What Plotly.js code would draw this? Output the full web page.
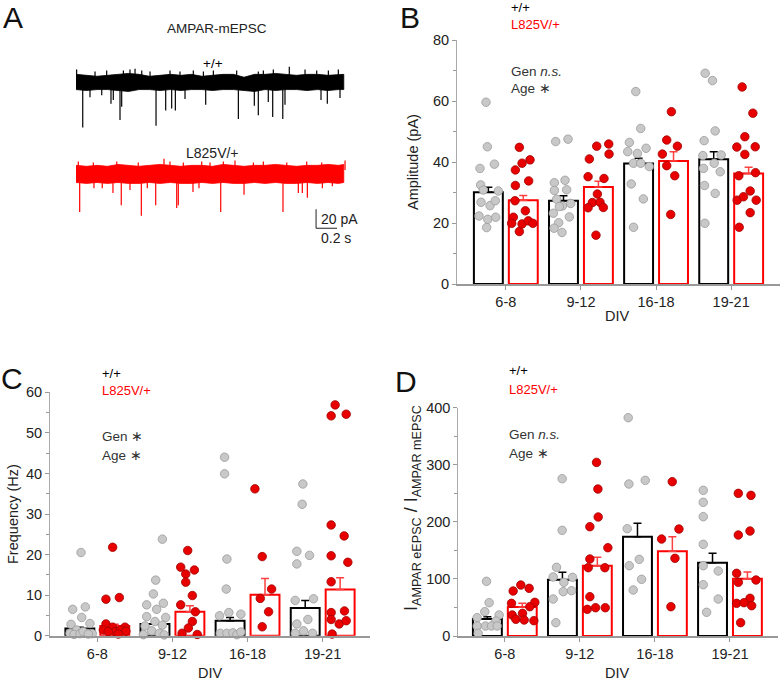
<!DOCTYPE html>
<html><head><meta charset="utf-8">
<script src="https://cdn.plot.ly/plotly-3.0.1.min.js"></script>
<style>html,body{margin:0;padding:0;background:#fff}#chart{width:780px;height:680px}</style>
</head><body><div id="chart"></div>
<script>
// ---------------- DATA ----------------
const divCats = ['6-8', '9-12', '16-18', '19-21'];
const genoWT = '+/+';
const genoMut = 'L825V/+';

// Panel B: amplitude (pA)
const ampWtMean = [30.1, 27.3, 39.5, 40.9];
const ampWtSem  = [1.6, 1.6, 1.7, 2.5];
const ampMutMean = [27.5, 31.8, 40.3, 36.2];
const ampMutSem  = [1.5, 1.9, 3.1, 2.1];
const ampWtPts = [
  [59.6,45.0,37.9,39.3,32.5,30.8,30.5,26.8,25.7,27.3,22.3,21.2,21.9,18.5],
  [46.7,47.5,33.2,34.0,30.7,30.9,27.8,25.6,26.4,25.4,23.2,22.0,20.1,18.3,16.9],
  [63.1,51.0,46.4,43.4,42.8,44.5,39.6,39.6,38.5,32.8,27.9,18.6],
  [69.1,66.7,50.2,47.0,42.1,42.3,39.6,37.9,36.8,32.3,29.7,19.9]
];
const ampWtJit = [
  [-0.264,-0.246,-0.344,-0.152,-0.335,-0.30,-0.10,-0.33,-0.21,-0.14,-0.357,-0.24,-0.135,-0.255],
  [-0.336,-0.172,-0.354,-0.212,-0.354,-0.19,-0.323,-0.247,-0.136,-0.287,-0.367,-0.154,-0.296,-0.358,-0.252],
  [-0.27,-0.204,-0.355,-0.377,-0.249,-0.133,-0.30,-0.204,-0.09,-0.33,-0.169,-0.30],
  [-0.346,-0.249,-0.213,-0.36,-0.377,-0.133,-0.226,-0.368,-0.146,-0.355,-0.213,-0.35]
];
const ampMutPts = [
  [44.8,37.4,39.6,40.7,32.3,33.8,27.3,24.0,21.9,19.9,17.2,19.7,20.7,19.9],
  [45.2,45.9,41.0,42.6,35.2,34.6,29.5,26.7,26.8,25.0,25.1,16.0],
  [56.5,47.2,45.2,42.6,38.8,35.5,22.8],
  [64.6,56.0,48.3,44.9,45.0,42.5,35.5,36.5,30.5,27.5,28.6,27.5,23.4,18.6]
];
const ampMutJit = [
  [0.18,0.127,0.216,0.322,0.127,0.304,0.122,0.26,0.10,0.078,0.18,0.216,0.30,0.36],
  [0.21,0.37,0.112,0.374,0.095,0.307,0.219,0.152,0.254,0.095,0.298,0.2],
  [0.204,0.142,0.284,0.084,0.142,0.249,0.195],
  [0.146,0.289,0.182,0.075,0.32,0.182,0.102,0.324,0.253,0.08,0.164,0.333,0.253,0.107]
];

// Panel C: frequency (Hz)
const freqWtMean = [1.8, 2.9, 3.7, 6.8];
const freqWtSem  = [0.3, 0.6, 0.8, 1.9];
const freqMutMean = [2.4, 5.9, 10.1, 11.4];
const freqMutSem  = [0.4, 1.5, 4.0, 2.9];
const freqWtPts = [
  [20.5,6.5,7.1,4.5,2.8,3.0,1.4,0.6,0.3,0.5,0.6,0.5,1.0,0.4],
  [23.8,13.7,10.3,7.6,8.0,6.5,4.7,4.5,3.5,2.6,2.4,1.2,0.6,0.25,0.2],
  [44.0,39.9,18.9,11.5,4.9,5.7,5.3,0.6,0.6,0.7,0.25,0.9],
  [37.4,32.4,20.8,19.8,17.7,8.7,9.1,4.0,2.9,1.2,0.6,0.6]
];
const freqWtJit = [
  [-0.217,-0.328,-0.16,-0.208,-0.35,-0.098,-0.275,-0.364,-0.31,-0.23,-0.15,-0.067,-0.19,-0.12],
  [-0.134,-0.223,-0.254,-0.343,-0.121,-0.21,-0.343,-0.09,-0.232,-0.134,-0.365,-0.276,-0.174,-0.387,-0.11],
  [-0.306,-0.306,-0.275,-0.284,-0.373,-0.249,-0.089,-0.364,-0.275,-0.195,-0.142,-0.089],
  [-0.264,-0.273,-0.344,-0.175,-0.344,-0.366,-0.122,-0.197,-0.344,-0.255,-0.366,-0.135]
];
const freqMutPts = [
  [21.8,9.0,9.4,2.9,2.1,2.1,1.4,1.0,1.0,1.4,1.1,0.4],
  [21.0,16.9,15.2,16.2,13.2,9.9,7.6,5.9,3.5,1.9,0.6,0.3],
  [36.2,19.5,11.5,9.2,5.9,2.2],
  [56.9,54.2,54.6,27.3,24.6,19.7,18.1,13.3,5.7,6.1,4.0,2.9,3.7,0.4]
];
const freqMutJit = [
  [0.204,0.115,0.293,0.115,0.204,0.368,0.08,0.235,0.146,0.31,0.38,0.28],
  [0.203,0.11,0.177,0.292,0.177,0.265,0.11,0.305,0.265,0.212,0.128,0.33],
  [0.098,0.195,0.32,0.169,0.28,0.195],
  [0.166,0.113,0.313,0.113,0.286,0.113,0.335,0.113,0.113,0.29,0.113,0.22,0.313,0.126]
];

// Panel D: eEPSC / mEPSC ratio
const ratioWtMean = [29.8, 98.7, 174.0, 128.5];
const ratioWtSem  = [4.1, 12.8, 23.4, 16.3];
const ratioMutMean = [50.8, 123.2, 148.3, 100.4];
const ratioMutSem  = [6.4, 14.6, 25.7, 11.7];
const ratioWtPts = [
  [95.8,58.4,42.6,32.1,36.8,26.3,17.5,17.5,17.5,17.5,4.7],
  [275.6,185.1,120.3,103.4,102.8,94.0,64.8,77.7,79.4,23.4],
  [382.5,266.3,272.7,188.0,123.2,134.3,99.3,80.6],
  [255.2,234.2,209.1,160.6,123.2,113.9,89.9,64.8,41.5]
];
const ratioWtJit = [
  [-0.244,-0.209,-0.267,-0.369,-0.076,-0.12,-0.369,-0.258,-0.178,-0.102,-0.356],
  [-0.236,-0.236,-0.311,-0.356,-0.098,-0.213,-0.356,-0.222,-0.111,-0.32],
  [-0.356,-0.347,-0.129,-0.369,-0.342,-0.209,-0.178,-0.289],
  [-0.356,-0.356,-0.356,-0.356,-0.356,-0.156,-0.356,-0.156,-0.311]
];
const ratioMutPts = [
  [89.3,78.8,83.5,57.2,59.0,36.8,39.7,51.4,29.2,28.0,26.9],
  [304.2,257.5,191.5,208.5,154.7,134.9,119.7,119.7,68.9,46.7,49.6,49.6],
  [270.4,187.4,169.9,136.1,51.4],
  [249.9,246.4,176.9,183.9,109.8,94.0,98.1,66.0,57.2,58.4,53.1,23.4]
];
const ratioMutJit = [
  [0.213,0.111,0.324,0.089,0.4,0.098,0.236,0.333,0.147,0.258,0.387],
  [0.222,0.24,0.133,0.244,0.373,0.133,0.333,0.111,0.133,0.098,0.209,0.338],
  [0.231,0.32,0.089,0.267,0.213],
  [0.111,0.28,0.111,0.267,0.089,0.111,0.347,0.267,0.089,0.187,0.289,0.142]
];

// Panel A: example mEPSC traces (time s, current pA relative to baseline)
const traceEnvT = [0,0.1,0.2,0.3,0.4,0.5,0.6,0.7,0.8,0.9,1.0,1.1,1.2,1.3,1.4,1.5,1.6,1.7,1.8,1.9,2.0,2.1,2.2,2.3,2.4,2.5,2.55];
const wtEnvUp = [8,7,6,7,8,9,8,6,7,8,7,8,6,7,8,8,5,8,8,9,8,7,8,8,7,8,8];
const wtEnvLo = [-8,-9,-8,-8,-9,-10,-8,-8,-9,-8,-9,-8,-8,-9,-8,-8,-9,-10,-8,-9,-8,-8,-9,-8,-9,-8,-8];
const wtSpikeT = [0.064,0.133,0.245,0.333,0.355,0.419,0.435,0.762,0.854,0.911,0.946,1.038,1.235,1.546,1.698,1.736,1.831,1.873,1.969,1.99,2.333,2.393,2.514];
const wtSpikeAmp = [-48,-16,-14,-23,-19,-40,-26,-46,-30,-28,-30,-18,-24,-39,-25,-35,-21,-37,-39,-24,-19,-23,-17];
const wtUpT = [0.006,0.181,0.292,0.451,0.514,0.562,0.626,0.705,0.895,0.99,1.117,1.213,1.308,1.53,1.736,1.784,1.879,2.031,2.181,2.292,2.403,2.498];
const wtUpAmp = [13,11,12,12,13,14,12,11,12,11,12,11,12,12,11,12,13,16,13,12,12,13];
const mutEnvUp = [9,8,9,8,10,9,8,9,10,9,8,9,9,8,10,9,8,9,9,10,9,8,9,9,10,9,10];
const mutEnvLo = [-9,-10,-9,-10,-9,-10,-10,-9,-10,-9,-10,-10,-9,-10,-9,-10,-10,-9,-10,-9,-10,-10,-9,-10,-9,-10,-9];
const mutSpikeT = [0.035,0.171,0.25,0.352,0.431,0.514,0.622,0.679,0.759,0.959,0.974,1.114,1.171,1.378,1.6,1.971,2.117,2.155,2.203,2.346,2.441];
const mutSpikeAmp = [-40,-15,-15,-20,-33,-17,-44,-15,-33,-36,-33,-19,-15,-40,-22,-40,-20,-20,-25,-15,-13];
const mutUpT = [0.022,0.165,0.388,0.593,0.838,0.895,1.022,1.197,1.276,1.403,1.514,1.689,1.784,2.007,2.197,2.34,2.562];
const mutUpAmp = [13,12,13,12,16,13,12,13,12,13,14,12,13,12,13,12,14];
const scaleBarPA = 20;
const scaleBarS = 0.2;

// ---------------- STYLE / LAYOUT HELPERS ----------------
const FONT = 'Liberation Sans, Arial, sans-serif';
const W = 780, H = 680;
const PX = x => x / W;
const PY = y => 1 - y / H;
const RED = '#ff0000';
const wtBarOff = -0.425, mutBarOff = 0.04, barW = 0.385;

const traces = [];
function panel(ax, wtMean, wtSem, mutMean, mutSem, wtPts, wtJit, mutPts, mutJit) {
  const xa = 'x' + ax, ya = 'y' + ax;
  const idx = divCats.map((c, i) => i);
  traces.push({type:'bar', x: idx, y: wtMean, xaxis: xa, yaxis: ya, width: barW, offset: wtBarOff,
    marker:{color:'rgba(255,255,255,0)', line:{color:'#000', width:2}},
    error_y:{type:'data', symmetric:false, array: wtSem, arrayminus: wtSem.map(() => 0), color:'#000', thickness:1.5, width:4},
    hoverinfo:'skip', showlegend:false});
  traces.push({type:'bar', x: idx, y: mutMean, xaxis: xa, yaxis: ya, width: barW, offset: mutBarOff,
    marker:{color:'rgba(255,255,255,0)', line:{color:RED, width:2}},
    error_y:{type:'data', symmetric:false, array: mutSem, arrayminus: mutSem.map(() => 0), color:'#ff4040', thickness:1.5, width:4},
    hoverinfo:'skip', showlegend:false});
  const gx = [], gy = [], rx = [], ry = [];
  wtPts.forEach((arr, i) => arr.forEach((v, j) => { gx.push(i + wtJit[i][j]); gy.push(v); }));
  mutPts.forEach((arr, i) => arr.forEach((v, j) => { rx.push(i + mutJit[i][j]); ry.push(v); }));
  traces.push({type:'scatter', mode:'markers', x: gx, y: gy, xaxis: xa, yaxis: ya, cliponaxis:false,
    marker:{size:8.5, color:'#c8c8c8', line:{color:'#9a9a9a', width:0.8}}, hoverinfo:'skip', showlegend:false});
  traces.push({type:'scatter', mode:'markers', x: rx, y: ry, xaxis: xa, yaxis: ya, cliponaxis:false,
    marker:{size:8.5, color:'#e80000', line:{color:'#a00000', width:0.8}}, hoverinfo:'skip', showlegend:false});
}
panel('', ampWtMean, ampWtSem, ampMutMean, ampMutSem, ampWtPts, ampWtJit, ampMutPts, ampMutJit);
panel('2', freqWtMean, freqWtSem, freqMutMean, freqMutSem, freqWtPts, freqWtJit, freqMutPts, freqMutJit);
panel('3', ratioWtMean, ratioWtSem, ratioMutMean, ratioMutSem, ratioWtPts, ratioWtJit, ratioMutPts, ratioMutJit);

// Panel A traces
const mutBase = -96.8;
function traceBand(envUp, envLo, spT, spA, upT, upA, base, color) {
  const bx = traceEnvT.concat(traceEnvT.slice().reverse());
  const by = envUp.map(v => v + base).concat(envLo.slice().reverse().map(v => v + base));
  traces.push({type:'scatter', mode:'lines', x: bx, y: by, fill:'toself', fillcolor: color,
    line:{color: color, width:0.8}, xaxis:'x4', yaxis:'y4', hoverinfo:'skip', showlegend:false});
  const sx = [], sy = [];
  spT.forEach((t, i) => { sx.push(t, t, null); sy.push(base - 6, base + spA[i], null); });
  upT.forEach((t, i) => { sx.push(t, t, null); sy.push(base + 4, base + upA[i], null); });
  traces.push({type:'scatter', mode:'lines', x: sx, y: sy, line:{color: color, width:1.2},
    xaxis:'x4', yaxis:'y4', hoverinfo:'skip', showlegend:false});
}
traceBand(wtEnvUp, wtEnvLo, wtSpikeT, wtSpikeAmp, wtUpT, wtUpAmp, 0, '#000000');
traceBand(mutEnvUp, mutEnvLo, mutSpikeT, mutSpikeAmp, mutUpT, mutUpAmp, mutBase, RED);

// scale bar
const sbT0 = 2.286, sbY0 = -154;
traces.push({type:'scatter', mode:'lines', x:[sbT0, sbT0, null, sbT0, sbT0 + scaleBarS],
  y:[sbY0 + scaleBarPA, sbY0, null, sbY0, sbY0], line:{color:'#222', width:1},
  xaxis:'x4', yaxis:'y4', hoverinfo:'skip', showlegend:false});

function xAx(domain, range) {
  return {domain, range, tickmode:'array', tickvals: divCats.map((c, i) => i), ticktext: divCats,
    showline:true, linecolor:'#999', linewidth:2, ticks:'outside', ticklen:4, tickwidth:1, tickcolor:'#999',
    showgrid:false, zeroline:false, tickfont:{family:FONT, size:14.5, color:'#222'}, fixedrange:true};
}
function yAx(domain, range, dtick) {
  return {domain, range, dtick, tick0:0, showline:true, linecolor:'#aaa', linewidth:1, ticks:'outside',
    ticklen:4, tickwidth:1, tickcolor:'#999', minor:{ticks:'outside', ticklen:3, dtick: dtick / 2, tickcolor:'#999'},
    showgrid:false, zeroline:false, tickfont:{family:FONT, size:14.5, color:'#222'}, fixedrange:true};
}

const ann = [];
function txt(text, x, y, size, opts) {
  ann.push(Object.assign({text, x: PX(x), y: PY(y), xref:'paper', yref:'paper', showarrow:false,
    xanchor:'left', yanchor:'middle', font:{family:FONT, size, color:'#222'}}, opts || {}));
}
// panel letters
txt('A', 13, 17, 30, {xanchor:'center', font:{family:FONT, size:30, color:'#111'}});
txt('B', 410, 17, 30, {xanchor:'center', font:{family:FONT, size:30, color:'#111'}});
txt('C', 12, 378, 30, {xanchor:'center', font:{family:FONT, size:30, color:'#111'}});
txt('D', 406, 381, 30, {xanchor:'center', font:{family:FONT, size:30, color:'#111'}});
// panel A texts
txt('AMPAR-mEPSC', 217, 29, 13.5, {xanchor:'center'});
txt(genoWT, 213, 63, 13.5, {xanchor:'center', font:{family:FONT, size:13.5, color:'#000'}});
txt(genoMut, 213, 153, 14, {xanchor:'center'});
txt('20 pA', 319, 219, 14);
txt('0.2 s', 319, 238, 14);
// legends & stats
function legend(x, y1, y2, yg, ya, genStar) {
  txt(genoWT, x, y1, 13, {font:{family:FONT, size:13, color:'#000'}});
  txt(genoMut, x, y2, 13, {font:{family:FONT, size:13, color:RED}});
  txt(genStar ? 'Gen \u2217' : 'Gen <i>n.s.</i>', x, yg, 13.5, {font:{family:FONT, size:13.5, color:'#333'}});
  txt('Age \u2217', x, ya, 13.5, {font:{family:FONT, size:13.5, color:'#333'}});
}
legend(509, 8, 25, 72, 89, false);
legend(100, 373, 391, 436, 456, true);
legend(507, 371, 389, 435, 453, false);
// axis titles
txt('Amplitude (pA)', 413, 162, 14.5, {xanchor:'center', textangle:-90});
txt('Frequency (Hz)', 13, 514, 14.5, {xanchor:'center', textangle:-90});
txt('I<sub>AMPAR eEPSC</sub> / I<sub>AMPAR mEPSC</sub>', 412, 508, 18, {xanchor:'center', textangle:-90});
txt('DIV', 617, 316, 14.5, {xanchor:'center'});
txt('DIV', 210, 673, 14.5, {xanchor:'center'});
txt('DIV', 617, 673, 14.5, {xanchor:'center'});

const layout = {
  width: W, height: H, margin:{l:0, r:0, t:0, b:0}, paper_bgcolor:'#fff', plot_bgcolor:'rgba(0,0,0,0)',
  barmode:'overlay', showlegend:false, font:{family:FONT},
  xaxis: xAx([PX(457), 1.0], [-0.65, 3.65]),
  yaxis: yAx([PY(284), PY(40)], [0, 80], 20),
  xaxis2: Object.assign(xAx([PX(50), PX(370)], [-0.63, 3.63]), {anchor:'y2'}),
  yaxis2: Object.assign(yAx([PY(635.7), PY(392.3)], [0, 60], 10), {anchor:'x2'}),
  xaxis3: Object.assign(xAx([PX(458.3), PX(778)], [-0.62, 3.64]), {anchor:'y3'}),
  yaxis3: Object.assign(yAx([PY(636), PY(407.7)], [0, 400], 100), {anchor:'x3'}),
  xaxis4: {domain:[0, 0.5], range:[-0.7238, 2.990], visible:false, fixedrange:true, anchor:'y4'},
  yaxis4: {domain:[PY(250), 1], range:[-176.9, 86.3], visible:false, fixedrange:true, anchor:'x4'},
  annotations: ann
};
layout.xaxis.anchor = 'y';
layout.yaxis.anchor = 'x';
Plotly.newPlot('chart', traces, layout, {staticPlot:true, displayModeBar:false});
</script>
</body></html>
